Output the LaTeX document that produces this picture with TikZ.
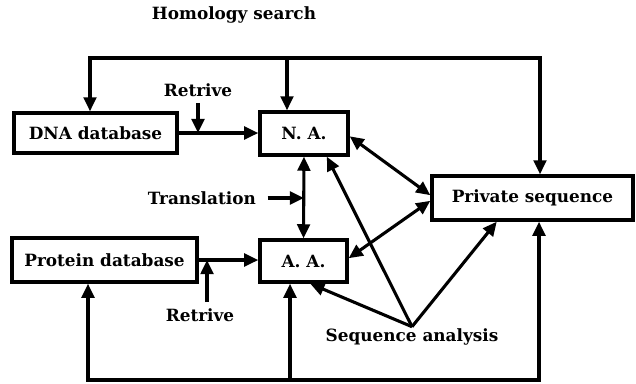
\documentclass[tikz,border=0pt]{standalone}
\usepackage{fontspec}
\setmainfont{DejaVu Serif}
\usepackage{tikz}
\usetikzlibrary{arrows.meta, calc, positioning}

\begin{document}
\begin{tikzpicture}[x=0.025cm, y=-0.025cm, line width=2.2pt, font=\fontsize{12}{14}\selectfont\bfseries]
\tikzset{box/.style={draw, rectangle, inner sep=0pt, line width=2.4pt},
  arr/.style={-{Triangle[length=10pt, width=9pt]}},
  darr/.style={{Triangle[length=10pt, width=9pt]}-{Triangle[length=10pt, width=9pt]}}}
  \useasboundingbox (0,0) rectangle (636,383);

  \node (HS) at (234,15) {Homology search};

  \node [box, minimum width=4.075cm, minimum height=1.0cm] (DNA) at (95.5,133) {DNA database};
  \node [box, minimum width=2.2cm, minimum height=1.075cm] (NA) at (304,133.5) {N. A.};
  \node [box, minimum width=4.625cm, minimum height=1.1cm] (PD) at (104.5,260) {Protein database};
  \node [box, minimum width=2.175cm, minimum height=1.05cm] (AA) at (303.5,261) {A. A.};
  \node [box, minimum width=5.025cm, minimum height=1.1cm] (PS) at (532.5,198) {Private sequence};

  \node (R1) at (198,90) {Retrive};
  \node (R2) at (200,315) {Retrive};
  \node [anchor=east] (TR) at (262,198) {Translation};
  \node (SA) at (412,337) {Sequence analysis};

  \coordinate (TN) at (287,58);
  \coordinate (TL) at (90,58);
  \coordinate (TRt) at (540,58);
  \coordinate (BN) at (290,380);
  \coordinate (BL) at (88,380);
  \coordinate (BR) at (539,380);

  \draw[arr] (TN) -- (TN |- NA.north);
  \draw[arr] (TN) -| (TL |- DNA.north);
  \draw[arr] (TN) -| (TRt |- PS.north);
  \draw[arr] (BN) -- (BN |- AA.south);
  \draw[arr] (BN) -| (BL |- PD.south);
  \draw[arr] (BN) -| (BR |- PS.south);

  \draw[arr] (DNA.east) -- (DNA.east -| NA.west);
  \draw[arr] (PD.east) -- (PD.east -| AA.west);
  \draw[arr] (R1.south) -- (R1.south |- DNA.east);
  \draw[arr] ([xshift=5pt]R2.north) -- ([xshift=5pt]R2.north |- PD.east);
  \draw[arr] ([xshift=4pt]TR.east) -- (TR.east -| NA.south);

  \draw[darr] (NA.south) -- (AA.north);
  \draw[darr] ([yshift=-2pt]NA.east) -- ([yshift=2pt]PS.west);
  \draw[darr] ([yshift=2pt]AA.east) -- ([yshift=-2pt]PS.west);

  \draw[arr] ([yshift=-3pt]SA.north) -- ($(NA.south)!0.5!(NA.south east)$);
  \draw[arr] ([yshift=-3pt]SA.north) -- ($(AA.south)!0.15!(AA.south east)$);
  \draw[arr] ([yshift=-3pt]SA.north) -- ($(PS.south west)!0.65!(PS.south)$);
\end{tikzpicture}
\end{document}
